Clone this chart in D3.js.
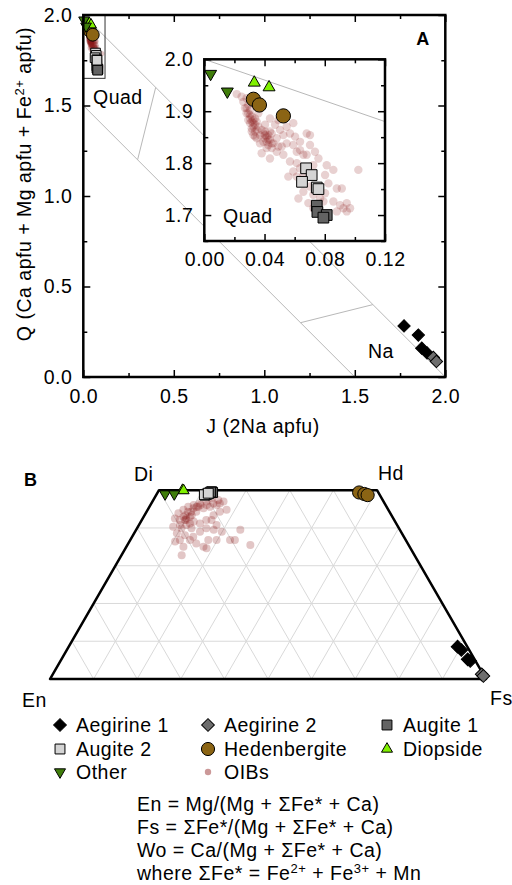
<!DOCTYPE html>
<html>
<head>
<meta charset="utf-8">
<script src="https://cdn.jsdelivr.net/npm/d3@7"></script>
<style>
  body { margin: 0; background: #fff; }
  svg { display: block; font-family: "Liberation Sans", Arial, sans-serif; letter-spacing: 0.5px; }
</style>
</head>
<body>
<script>
'use strict';

// ---- panel A : Q-J values (J = 2Na apfu, Q = Ca + Mg + Fe2+ apfu)
const aegirine1J = [1.772, 1.851, 1.870, 1.899]
const aegirine1Q = [0.282, 0.232, 0.159, 0.133]
const aegirine2J = [1.934, 1.951]
const aegirine2Q = [0.108, 0.086]
const augite1J = [0.0747, 0.0751, 0.0813, 0.0791]
const augite1Q = [1.718, 1.706, 1.700, 1.695]
const augite2J = [0.0676, 0.0713, 0.0649, 0.0747, 0.0758]
const augite2Q = [1.790, 1.777, 1.764, 1.753, 1.750]
const hedenbergiteJ = [0.0326, 0.0366, 0.0525]
const hedenbergiteQ = [1.923, 1.912, 1.891]
const diopsideJ = [0.0332, 0.0430]
const diopsideQ = [1.955, 1.946]
const otherJ = [0.0042, 0.0153]
const otherQ = [1.972, 1.938]

const oibJ = [0.0215, 0.0248, 0.0281, 0.0259, 0.0292, 0.0304, 0.0281, 0.0315, 0.0326, 0.0304,
  0.0337, 0.0315, 0.0348, 0.0326, 0.0370, 0.0403, 0.0414, 0.0436, 0.0392, 0.0425,
  0.0459, 0.0481, 0.0447, 0.0381, 0.0436, 0.0481, 0.0514, 0.0547, 0.0525, 0.0503,
  0.0470, 0.0569, 0.0603, 0.0636, 0.0680, 0.0614, 0.0658, 0.0702, 0.0680, 0.0735,
  0.0758, 0.0569, 0.0614, 0.0636, 0.0591, 0.0558, 0.0614, 0.0658, 0.0724, 0.0802,
  0.0813, 0.0857, 0.0824, 0.0702, 0.0658, 0.0625, 0.0724, 0.0769, 0.0802, 0.0880,
  0.0913, 0.0857, 0.0902, 0.0946, 0.0924, 0.0968, 0.0946, 0.0880, 0.0791, 0.0724,
  0.0691, 0.1023, 0.0702, 0.0337, 0.0359, 0.0270, 0.0304, 0.0403, 0.0436, 0.0492,
  0.0547, 0.0591, 0.0492, 0.0525, 0.0636, 0.0591, 0.0669, 0.0315, 0.0326, 0.0337,
  0.0403, 0.0414, 0.0425, 0.0392, 0.0348, 0.0304, 0.0447,
  0.0292, 0.0326, 0.0359, 0.0381, 0.0403, 0.0425, 0.0447, 0.0414, 0.0370, 0.0337,
  0.0315, 0.0348, 0.0292, 0.0281, 0.0436]
const oibQ = [1.933, 1.928, 1.925, 1.918, 1.912, 1.902, 1.896, 1.890, 1.883, 1.877,
  1.874, 1.867, 1.864, 1.854, 1.854, 1.861, 1.851, 1.845, 1.841, 1.835,
  1.838, 1.848, 1.857, 1.819, 1.809, 1.822, 1.832, 1.838, 1.854, 1.864,
  1.874, 1.857, 1.851, 1.841, 1.857, 1.822, 1.816, 1.835, 1.816, 1.822,
  1.809, 1.803, 1.800, 1.790, 1.784, 1.774, 1.774, 1.777, 1.796, 1.777,
  1.796, 1.787, 1.761, 1.755, 1.745, 1.732, 1.739, 1.732, 1.742, 1.751,
  1.751, 1.726, 1.719, 1.723, 1.713, 1.713, 1.707, 1.707, 1.726, 1.713,
  1.723, 1.787, 1.854, 1.886, 1.896, 1.906, 1.893, 1.874, 1.886, 1.883,
  1.870, 1.877, 1.832, 1.816, 1.825, 1.835, 1.790, 1.880, 1.870, 1.861,
  1.848, 1.841, 1.854, 1.857, 1.848, 1.886, 1.829,
  1.883, 1.877, 1.870, 1.864, 1.854, 1.845, 1.838, 1.829, 1.838, 1.851,
  1.861, 1.880, 1.896, 1.906, 1.861]

// ---- panel B : Wo / Fs fractions (En = 1 - Wo - Fs)
const aegirine1Wo = [0.0856, 0.0768, 0.0520, 0.0477]
const aegirine1Fs = [0.892, 0.905, 0.932, 0.940]
const aegirine2Wo = [0.0124, 0.0080]
const aegirine2Fs = [0.984, 0.990]
const augite1Wo = [0.496, 0.494, 0.492, 0.495]
const augite1Fs = [0.123, 0.126, 0.119, 0.121]
const augite2Wo = [0.487, 0.489, 0.490, 0.488, 0.492]
const augite2Fs = [0.112, 0.114, 0.116, 0.110, 0.117]
const hedenbergiteWo = [0.494, 0.490, 0.487]
const hedenbergiteFs = [0.462, 0.476, 0.485]
const diopsideWo = [0.500, 0.499]
const diopsideFs = [0.054, 0.057]
const otherWo = [0.490, 0.490]
const otherFs = [0.019, 0.040]

const oibWo = [0.474, 0.478, 0.470, 0.465, 0.461, 0.456, 0.448, 0.439, 0.425, 0.421,
  0.425, 0.434, 0.443, 0.452, 0.456, 0.461, 0.470, 0.448, 0.443, 0.434,
  0.421, 0.412, 0.417, 0.408, 0.399, 0.403, 0.386, 0.381, 0.377, 0.390,
  0.399, 0.395, 0.390, 0.368, 0.368, 0.395, 0.355, 0.368, 0.368, 0.350,
  0.346, 0.359, 0.368, 0.350, 0.368, 0.328, 0.364, 0.421, 0.408, 0.421,
  0.430, 0.434, 0.443, 0.456, 0.461,
  0.421, 0.412, 0.430, 0.443, 0.452, 0.456, 0.461, 0.465, 0.408, 0.399, 0.465]
const oibFs = [0.149, 0.132, 0.124, 0.111, 0.099, 0.089, 0.082, 0.075, 0.074, 0.087,
  0.100, 0.108, 0.114, 0.126, 0.139, 0.152, 0.163, 0.181, 0.168, 0.158,
  0.148, 0.138, 0.121, 0.109, 0.102, 0.081, 0.098, 0.119, 0.140, 0.149,
  0.159, 0.178, 0.199, 0.229, 0.240, 0.239, 0.282, 0.198, 0.179, 0.177,
  0.186, 0.156, 0.137, 0.131, 0.114, 0.138, 0.105, 0.160, 0.178, 0.102,
  0.106, 0.094, 0.102, 0.108, 0.115,
  0.099, 0.115, 0.091, 0.095, 0.103, 0.112, 0.129, 0.142, 0.094, 0.125, 0.157]

// ---- tick labels
const mainTicks = [0, 0.5, 1.0, 1.5, 2.0]
const insetXTicks = [0, 0.04, 0.08, 0.12]
const insetYTicks = [1.7, 1.8, 1.9, 2.0]

const series = [
  {name: 'Aegirine 1', J: aegirine1J, Q: aegirine1Q, Wo: aegirine1Wo, Fs: aegirine1Fs, shape: 'diamond', fill: '#000000'},
  {name: 'Aegirine 2', J: aegirine2J, Q: aegirine2Q, Wo: aegirine2Wo, Fs: aegirine2Fs, shape: 'diamond', fill: '#6e6e6e'},
  {name: 'Augite 1', J: augite1J, Q: augite1Q, Wo: augite1Wo, Fs: augite1Fs, shape: 'square', fill: '#636363'},
  {name: 'Augite 2', J: augite2J, Q: augite2Q, Wo: augite2Wo, Fs: augite2Fs, shape: 'square', fill: '#d4d4d4'},
  {name: 'Hedenbergite', J: hedenbergiteJ, Q: hedenbergiteQ, Wo: hedenbergiteWo, Fs: hedenbergiteFs, shape: 'circle', fill: '#8b6414'},
  {name: 'Diopside', J: diopsideJ, Q: diopsideQ, Wo: diopsideWo, Fs: diopsideFs, shape: 'triUp', fill: '#80f000'},
  {name: 'Other', J: otherJ, Q: otherQ, Wo: otherWo, Fs: otherFs, shape: 'triDown', fill: '#3f7d0a'}
]
const oibColor = '#8b1a1a'

const FONT = 19.5
const svg = d3.select('body').append('svg').attr('width', 512).attr('height', 885)

function symbolPath(shape, scale) {
  scale = scale || 1
  if (shape === 'diamond') return d3.symbol(d3.symbolSquare, 95 * scale)()
  if (shape === 'square') return d3.symbol(d3.symbolSquare, 115 * scale)()
  if (shape === 'circle') return d3.symbol(d3.symbolCircle, 160 * scale)()
  return d3.symbol(d3.symbolTriangle, 62 * scale)()
}
function symbolRotate(shape) {
  if (shape === 'diamond') return 45
  if (shape === 'triDown') return 180
  return 0
}

function drawMarkers(g, s, px, py, scale) {
  const idx = d3.range(px.length)
  g.selectAll(null).data(idx).enter().append('path')
    .attr('d', symbolPath(s.shape, scale))
    .attr('transform', i => `translate(${px[i]},${py[i]}) rotate(${symbolRotate(s.shape)})`)
    .attr('fill', s.fill)
    .attr('stroke', '#000')
    .attr('stroke-width', 1)
}

function styleAxis(g) {
  g.attr('font-family', null).attr('font-size', FONT).attr('fill', null)
  g.select('.domain').remove()
  g.selectAll('line').attr('stroke', '#000').attr('stroke-width', 1.5)
  g.selectAll('text').attr('fill', '#000')
}

function frameAxes(g, x, y, majX, minX, majY, minY, fmtX, fmtY, pad) {
  const [x0, x1] = x.range()
  const [y0, y1] = y.range()
  g.append('g').attr('transform', `translate(0,${y0})`)
    .call(d3.axisBottom(x).tickValues(majX).tickFormat(fmtX).tickSize(-7).tickPadding(pad.x)).call(styleAxis)
  g.append('g').attr('transform', `translate(0,${y0})`)
    .call(d3.axisBottom(x).tickValues(minX).tickFormat('').tickSize(-4)).call(styleAxis)
  g.append('g').attr('transform', `translate(0,${y1})`)
    .call(d3.axisTop(x).tickValues(majX).tickFormat('').tickSize(-7)).call(styleAxis)
  g.append('g').attr('transform', `translate(0,${y1})`)
    .call(d3.axisTop(x).tickValues(minX).tickFormat('').tickSize(-4)).call(styleAxis)
  g.append('g').attr('transform', `translate(${x0},0)`)
    .call(d3.axisLeft(y).tickValues(majY).tickFormat(fmtY).tickSize(-7).tickPadding(pad.y)).call(styleAxis)
  g.append('g').attr('transform', `translate(${x0},0)`)
    .call(d3.axisLeft(y).tickValues(minY).tickFormat('').tickSize(-4)).call(styleAxis)
  g.append('g').attr('transform', `translate(${x1},0)`)
    .call(d3.axisRight(y).tickValues(majY).tickFormat('').tickSize(-7)).call(styleAxis)
  g.append('g').attr('transform', `translate(${x1},0)`)
    .call(d3.axisRight(y).tickValues(minY).tickFormat('').tickSize(-4)).call(styleAxis)
  g.append('rect').attr('x', x0).attr('y', y1).attr('width', x1 - x0).attr('height', y0 - y1)
    .attr('fill', 'none').attr('stroke', '#000').attr('stroke-width', 2.5)
}

// ================= panel A =================
const x = d3.scaleLinear().domain([0, 2]).range([83.3, 445.3])
const y = d3.scaleLinear().domain([0, 2]).range([377, 15])
const pA = svg.append('g')

// field boundaries
const boundaries = [
  [[0, 2], [2, 0]], [[0, 1.5], [1.5, 0]],
  [[0.3, 1.2], [0.4, 1.6]], [[1.2, 0.3], [1.6, 0.4]]
]
pA.selectAll(null).data(boundaries).enter().append('line')
  .attr('x1', d => x(d[0][0])).attr('y1', d => y(d[0][1]))
  .attr('x2', d => x(d[1][0])).attr('y2', d => y(d[1][1]))
  .attr('stroke', '#b8b8b8').attr('stroke-width', 1)

// zoom box of the inset
pA.append('rect').attr('x', x(0)).attr('y', y(2.0))
  .attr('width', x(0.12) - x(0)).attr('height', y(1.65) - y(2.0))
  .attr('fill', 'none').attr('stroke', '#333').attr('stroke-width', 1)

pA.selectAll(null).data(d3.range(oibJ.length)).enter().append('circle')
  .attr('cx', i => x(oibJ[i])).attr('cy', i => y(oibQ[i])).attr('r', 2.6)
  .attr('fill', oibColor).attr('fill-opacity', 0.25)
for (const s of series) drawMarkers(pA, s, s.J.map(v => x(v)), s.Q.map(v => y(v)), 0.8)

pA.append('text').attr('x', 93).attr('y', 104).attr('font-size', FONT).text('Quad')
pA.append('text').attr('x', 368).attr('y', 358).attr('font-size', FONT).text('Na')
pA.append('text').attr('x', 423).attr('y', 45).attr('font-size', 18).attr('font-weight', 'bold')
  .attr('text-anchor', 'middle').text('A')

frameAxes(pA, x, y, mainTicks, [0.25, 0.75, 1.25, 1.75], mainTicks, [0.25, 0.75, 1.25, 1.75],
  d3.format('.1f'), d3.format('.1f'), {x: 12, y: 11})

pA.append('text').attr('x', 263).attr('y', 433).attr('text-anchor', 'middle')
  .attr('font-size', FONT).text('J (2Na apfu)')
const yTitle = pA.append('text').attr('transform', 'translate(31,184) rotate(-90)')
  .attr('text-anchor', 'middle').attr('font-size', FONT)
yTitle.append('tspan').text('Q (Ca apfu + Mg apfu + Fe')
yTitle.append('tspan').attr('font-size', 13).attr('dy', -7).text('2+')
yTitle.append('tspan').attr('dy', 7).text(' apfu)')

// ---- inset
const xi = d3.scaleLinear().domain([0, 0.12]).range([204.3, 385])
const yi = d3.scaleLinear().domain([1.65, 2.0]).range([241, 59.3])
const pI = svg.append('g')
pI.append('rect').attr('x', 204.3).attr('y', 59.3).attr('width', 385 - 204.3).attr('height', 241 - 59.3)
  .attr('fill', '#fff')
pI.append('line')
  .attr('x1', xi(0)).attr('y1', yi(2.0)).attr('x2', xi(0.12)).attr('y2', yi(1.88))
  .attr('stroke', '#b8b8b8').attr('stroke-width', 1)
pI.selectAll(null).data(d3.range(oibJ.length)).enter().append('circle')
  .attr('cx', i => xi(oibJ[i])).attr('cy', i => yi(oibQ[i])).attr('r', 4.2)
  .attr('fill', oibColor).attr('fill-opacity', 0.2)
for (const s of series) {
  if (s.J[0] > 0.2) continue
  drawMarkers(pI, s, s.J.map(v => xi(v)), s.Q.map(v => yi(v)), 1)
}
pI.append('text').attr('x', 223).attr('y', 222.5).attr('font-size', FONT).text('Quad')
frameAxes(pI, xi, yi, insetXTicks, [0.02, 0.06, 0.10], insetYTicks, [1.65, 1.75, 1.85, 1.95],
  d3.format('.2f'), d3.format('.1f'), {x: 11, y: 11})

// ================= panel B =================
const triX = d3.scaleLinear().domain([0, 1]).range([50, 486])
const triY = d3.scaleLinear().domain([0, 1]).range([679, 679 - 436 * Math.sqrt(3) / 2])
const tx = (wo, fs) => triX(fs + wo / 2)
const pB = svg.append('g')

const steps = d3.range(1, 10).map(v => v / 10)
const grid = []
for (const v of steps) {
  const top = Math.min(0.5, 1 - v)
  grid.push([[0, v], [top, v]])                  // constant Fs
  grid.push([[0, 1 - v], [top, 1 - v - top]])    // constant En
  if (v < 0.5) grid.push([[v, 0], [v, 1 - v]])   // constant Wo
}
pB.selectAll(null).data(grid).enter().append('line')
  .attr('x1', d => tx(d[0][0], d[0][1])).attr('y1', d => triY(d[0][0]))
  .attr('x2', d => tx(d[1][0], d[1][1])).attr('y2', d => triY(d[1][0]))
  .attr('stroke', '#d9d9d9').attr('stroke-width', 1)

const corners = [[0, 0], [0, 1], [0.5, 0.5], [0.5, 0]]
pB.append('path')
  .attr('d', d3.line()(corners.map(c => [tx(c[0], c[1]), triY(c[0])])) + 'Z')
  .attr('fill', 'none').attr('stroke', '#000').attr('stroke-width', 2.5).attr('stroke-linejoin', 'round')

pB.selectAll(null).data(d3.range(oibWo.length)).enter().append('circle')
  .attr('cx', i => tx(oibWo[i], oibFs[i])).attr('cy', i => triY(oibWo[i])).attr('r', 4)
  .attr('fill', oibColor).attr('fill-opacity', 0.25)
for (const s of series) drawMarkers(pB, s, s.Wo.map((w, i) => tx(w, s.Fs[i])), s.Wo.map(w => triY(w)), 0.85)

const vertexLabels = [
  {t: 'Di', x: 134, y: 481}, {t: 'Hd', x: 378, y: 480},
  {t: 'En', x: 22, y: 707}, {t: 'Fs', x: 490, y: 705}
]
pB.selectAll(null).data(vertexLabels).enter().append('text')
  .attr('x', d => d.x).attr('y', d => d.y).attr('font-size', FONT).text(d => d.t)
pB.append('text').attr('x', 24).attr('y', 486).attr('font-size', 18).attr('font-weight', 'bold').text('B')

// ---- legend
const legendItems = series.concat([{name: 'OIBs', shape: 'oib'}])
const colX = [60, 208, 387]
const rowY = [725, 749, 772]
const lg = svg.append('g')
legendItems.forEach((s, i) => {
  const cx = colX[i % 3], cy = rowY[Math.floor(i / 3)]
  if (s.shape === 'oib') {
    lg.append('circle').attr('cx', cx).attr('cy', cy).attr('r', 3.2)
      .attr('fill', oibColor).attr('fill-opacity', 0.45)
  } else {
    drawMarkers(lg, s, [cx], [cy], 0.85)
  }
  lg.append('text').attr('x', cx + 16).attr('y', cy + 7).attr('font-size', FONT).text(s.name)
})

// ---- formulas
const fm = svg.append('g').attr('font-size', FONT)
const formulas = ['En = Mg/(Mg + \u03A3Fe* + Ca)', 'Fs = \u03A3Fe*/(Mg + \u03A3Fe* + Ca)', 'Wo = Ca/(Mg + \u03A3Fe* + Ca)']
formulas.forEach((f, i) => {
  fm.append('text').attr('x', 137).attr('y', 811 + i * 23).text(f)
})
const last = fm.append('text').attr('x', 137).attr('y', 880)
last.append('tspan').text('where \u03A3Fe* = Fe')
last.append('tspan').attr('font-size', 13).attr('dy', -7).text('2+')
last.append('tspan').attr('dy', 7).text(' + Fe')
last.append('tspan').attr('font-size', 13).attr('dy', -7).text('3+')
last.append('tspan').attr('dy', 7).text(' + Mn')
</script>
</body>
</html>
